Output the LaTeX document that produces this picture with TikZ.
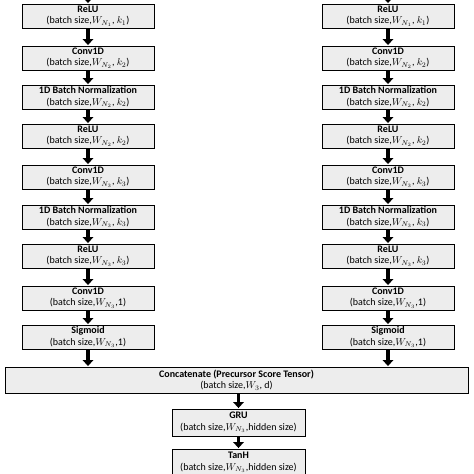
\documentclass[tikz,border=0pt]{standalone}
\usepackage{fontspec}
\setmainfont{Carlito}
\usetikzlibrary{arrows.meta}
\tikzset{
  blk/.style={draw=black, line width=0.9pt, fill=black!7, minimum width=132pt, minimum height=24pt,
    inner sep=0pt, align=center, font=\fontsize{10}{11.5}\selectfont},
  arr/.style={line width=3.8pt, -{Triangle[width=10.5pt,length=6pt]}, shorten >=0.5pt}
}
\begin{document}
\begin{tikzpicture}[x=1pt,y=-1pt]
\useasboundingbox (0,0) rectangle (474,474);
\clip (0,0) rectangle (474,474);
% left column
\node[blk] (l1) at (88,16) {\textbf{ReLU}\\(batch size,$W_{N_1}$, $k_1$)};
\node[blk] (l2) at (88,58) {\textbf{Conv1D}\\(batch size,$W_{N_2}$, $k_2$)};
\node[blk] (l3) at (88,97) {\textbf{1D Batch Normalization}\\(batch size,$W_{N_2}$, $k_2$)};
\node[blk] (l4) at (88,136) {\textbf{ReLU}\\(batch size,$W_{N_2}$, $k_2$)};
\node[blk] (l5) at (88,177) {\textbf{Conv1D}\\(batch size,$W_{N_3}$, $k_3$)};
\node[blk] (l6) at (88,217) {\textbf{1D Batch Normalization}\\(batch size,$W_{N_3}$, $k_3$)};
\node[blk] (l7) at (88,256) {\textbf{ReLU}\\(batch size,$W_{N_3}$, $k_3$)};
\node[blk] (l8) at (88,298) {\textbf{Conv1D}\\(batch size,$W_{N_3}$,1)};
\node[blk] (l9) at (88,337) {\textbf{Sigmoid}\\(batch size,$W_{N_3}$,1)};
% right column
\node[blk] (r1) at (388,16) {\textbf{ReLU}\\(batch size,$W_{N_1}$, $k_1$)};
\node[blk] (r2) at (388,58) {\textbf{Conv1D}\\(batch size,$W_{N_2}$, $k_2$)};
\node[blk] (r3) at (388,97) {\textbf{1D Batch Normalization}\\(batch size,$W_{N_2}$, $k_2$)};
\node[blk] (r4) at (388,136) {\textbf{ReLU}\\(batch size,$W_{N_2}$, $k_2$)};
\node[blk] (r5) at (388,177) {\textbf{Conv1D}\\(batch size,$W_{N_3}$, $k_3$)};
\node[blk] (r6) at (388,217) {\textbf{1D Batch Normalization}\\(batch size,$W_{N_3}$, $k_3$)};
\node[blk] (r7) at (388,256) {\textbf{ReLU}\\(batch size,$W_{N_3}$, $k_3$)};
\node[blk] (r8) at (388,298) {\textbf{Conv1D}\\(batch size,$W_{N_3}$,1)};
\node[blk] (r9) at (388,337) {\textbf{Sigmoid}\\(batch size,$W_{N_3}$,1)};
% bottom
\node[blk, minimum width=463pt, minimum height=26pt] (cat) at (236.5,380) {\textbf{Concatenate (Precursor Score Tensor)}\\(batch size,$W_3$, d)};
\node[blk, minimum width=133pt, minimum height=27pt] (gru) at (238.5,422.5) {\textbf{GRU}\\(batch size,$W_{N_3}$,hidden size)};
\node[blk, minimum width=133pt, minimum height=27pt] (tanh) at (238.5,462.5) {\textbf{TanH}\\(batch size,$W_{N_3}$,hidden size)};
% top entry coordinates
\coordinate (lt) at (88,-4);
\coordinate (rt) at (388,-4);
\draw[arr] (lt) -- (l1);
\draw[arr] (rt) -- (r1);
\foreach \a/\b in {1/2,2/3,3/4,4/5,5/6,6/7,7/8,8/9}{
  \draw[arr] (l\a) -- (l\b);
  \draw[arr] (r\a) -- (r\b);
}
\draw[arr] (l9.south) -- (l9.south |- cat.north);
\draw[arr] (r9.south) -- (r9.south |- cat.north);
\draw[arr] (cat.south -| gru.north) -- (gru);
\draw[arr] (gru) -- (tanh);
\end{tikzpicture}
\end{document}
